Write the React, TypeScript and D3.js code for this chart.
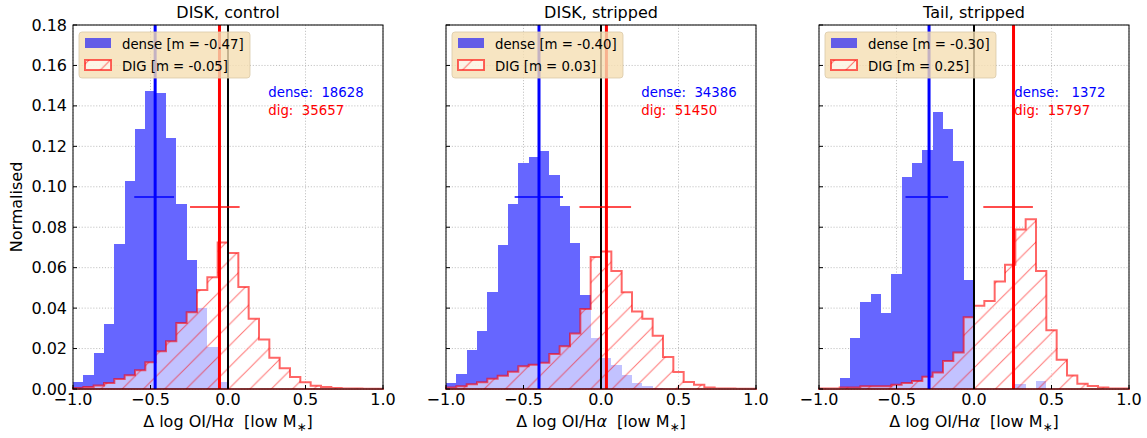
import React from 'react';
import * as d3 from 'd3';

const titles = ['DISK, control', 'DISK, stripped', 'Tail, stripped'];

const denseControl = [0.0035, 0.0071, 0.0178, 0.032, 0.0717, 0.1027, 0.1288, 0.1475, 0.1466, 0.1243, 0.0916, 0.0639, 0.0403, 0.0206, 0.0037, 0, 0, 0, 0, 0, 0, 0, 0, 0, 0, 0, 0, 0, 0, 0];
const digControl = [0.0005, 0.001, 0.0017, 0.003, 0.005, 0.0068, 0.0093, 0.0132, 0.0187, 0.0236, 0.0326, 0.038, 0.0489, 0.0552, 0.0724, 0.0672, 0.0504, 0.0347, 0.0245, 0.0155, 0.0102, 0.0059, 0.0033, 0.0016, 0.001, 0.0005, 0.0003, 0.0002, 0.0001, 0.0001];

const denseStripped = [0.0031, 0.0076, 0.0194, 0.0286, 0.0479, 0.0711, 0.0915, 0.1118, 0.1146, 0.1179, 0.1057, 0.0904, 0.0723, 0.0463, 0.0253, 0.0155, 0.012, 0.0071, 0.0032, 0.0013, 0.0004, 0, 0, 0, 0, 0, 0, 0, 0, 0];
const digStripped = [0.0007, 0.0013, 0.0023, 0.0033, 0.0051, 0.0066, 0.0085, 0.0112, 0.012, 0.013, 0.0173, 0.0212, 0.0275, 0.0396, 0.0653, 0.068, 0.0583, 0.0478, 0.0383, 0.0347, 0.0263, 0.0158, 0.0084, 0.0035, 0.0021, 0.0007, 0.0003, 0.0002, 0.0001, 0.0001];

const denseTail = [0, 0, 0.0056, 0.0254, 0.043, 0.0469, 0.0376, 0.0567, 0.1047, 0.1118, 0.1184, 0.1372, 0.1284, 0.1126, 0.0541, 0, 0, 0, 0, 0.0023, 0, 0.0038, 0, 0, 0, 0, 0, 0, 0, 0];
const digTail = [0.0003, 0.0003, 0.0007, 0.0007, 0.0013, 0.0013, 0.0013, 0.0021, 0.003, 0.004, 0.006, 0.0081, 0.0139, 0.018, 0.0355, 0.0412, 0.0435, 0.0532, 0.0614, 0.0789, 0.084, 0.0583, 0.029, 0.0145, 0.0067, 0.0026, 0.0015, 0.0007, 0.0003, 0.0002];

const denseSeries = [denseControl, denseStripped, denseTail];
const digSeries = [digControl, digStripped, digTail];

const denseMedian = [-0.47, -0.40, -0.29];
const digMedian = [-0.055, 0.035, 0.255];
const denseLegendM = ['-0.47', '-0.40', '-0.30'];
const digLegendM = ['-0.05', '0.03', '0.25'];
const denseErrLo = [-0.605, -0.557, -0.442];
const denseErrHi = [-0.348, -0.245, -0.167];
const digErrLo = [-0.245, -0.139, 0.06];
const digErrHi = [0.075, 0.194, 0.38];
const denseErrY = 0.095;
const digErrY = 0.09;
const denseCounts = [18628, 34386, 1372];
const digCounts = [35657, 51450, 15797];

const xTicks = [-1.0, -0.5, 0.0, 0.5, 1.0];
const yTicks = [0, 0.02, 0.04, 0.06, 0.08, 0.1, 0.12, 0.14, 0.16, 0.18];
const xDomain: [number, number] = [-1, 1];
const yDomain: [number, number] = [0, 0.18];

const FONT = 'DejaVu Sans';
const PANEL_LEFT = 73;
const PANEL_STEP = 373;
const PANEL_W = 310;
const TOP = 25;
const BOTTOM = 389;

const fmtX = d3.format('.1f');
const fmtY = d3.format('.2f');

function pad(n: number, w: number) {
  const s = String(n);
  return ' '.repeat(Math.max(0, w - s.length)) + s;
}

function Panel({ i }: { i: number }) {
  const left = PANEL_LEFT + i * PANEL_STEP;
  const x = d3.scaleLinear().domain(xDomain).range([left, left + PANEL_W]);
  const y = d3.scaleLinear().domain(yDomain).range([BOTTOM, TOP]);
  const dense = denseSeries[i];
  const dig = digSeries[i];
  const n = dense.length;
  const edges = d3.range(n + 1).map((k) => xDomain[0] + (k * (xDomain[1] - xDomain[0])) / n);
  const area = d3
    .area<number>()
    .x((_, k) => x(edges[k]))
    .y0(y(0))
    .y1((d) => y(d))
    .curve(d3.curveStepAfter);
  const digPath = area([...dig, dig[dig.length - 1]]) || '';
  const cx = left + PANEL_W / 2;
  const lx = left + 6;
  return (
    <g>
      {/* grid */}
      {xTicks.map((t) => (
        <line key={'gx' + t} x1={x(t)} x2={x(t)} y1={TOP} y2={BOTTOM} stroke="#b0b0b0" strokeWidth={0.8} strokeDasharray="1.1,1.8" />
      ))}
      {yTicks.map((t) => (
        <line key={'gy' + t} x1={left} x2={left + PANEL_W} y1={y(t)} y2={y(t)} stroke="#b0b0b0" strokeWidth={0.8} strokeDasharray="1.1,1.8" />
      ))}
      {/* dense bars */}
      {dense.map((v, k) =>
        v > 0 ? (
          <rect
            key={'d' + k}
            x={x(edges[k])}
            width={x(edges[k + 1]) - x(edges[k])}
            y={y(v)}
            height={y(0) - y(v)}
            fill="#6666ff"
            shapeRendering="crispEdges"
          />
        ) : null
      )}
      {/* DIG step histogram */}
      <path d={digPath} fill="#ffffff" fillOpacity={0.6} stroke="none" />
      <path d={digPath} fill="url(#hatch)" stroke="none" />
      <path d={digPath} fill="none" stroke="#ff0000" strokeOpacity={0.6} strokeWidth={2} />
      {/* vertical lines */}
      <line x1={x(0)} x2={x(0)} y1={TOP} y2={BOTTOM} stroke="#000" strokeWidth={2} />
      <line x1={x(denseMedian[i])} x2={x(denseMedian[i])} y1={TOP} y2={BOTTOM} stroke="#0000ff" strokeWidth={3} />
      <line x1={x(digMedian[i])} x2={x(digMedian[i])} y1={TOP} y2={BOTTOM} stroke="#ff0000" strokeWidth={3} />
      {/* error bars */}
      <line x1={x(denseErrLo[i])} x2={x(denseErrHi[i])} y1={y(denseErrY)} y2={y(denseErrY)} stroke="#0000ff" strokeOpacity={0.75} strokeWidth={2} />
      <line x1={x(digErrLo[i])} x2={x(digErrHi[i])} y1={y(digErrY)} y2={y(digErrY)} stroke="#ff0000" strokeOpacity={0.7} strokeWidth={2} />
      {/* frame */}
      <rect x={left} y={TOP} width={PANEL_W} height={BOTTOM - TOP} fill="none" stroke="#000" strokeWidth={1} />
      {/* ticks */}
      {xTicks.map((t) => (
        <line key={'tx' + t} x1={x(t)} x2={x(t)} y1={BOTTOM} y2={BOTTOM - 4} stroke="#000" strokeWidth={1} />
      ))}
      {yTicks.map((t) => (
        <line key={'ty' + t} x1={left} x2={left + 4} y1={y(t)} y2={y(t)} stroke="#000" strokeWidth={1} />
      ))}
      {xTicks.map((t) => (
        <text key={'lx' + t} x={x(t)} y={405} textAnchor="middle" fontSize={16} fontFamily={FONT} fill="#000">
          {fmtX(t)}
        </text>
      ))}
      {i === 0 &&
        yTicks.map((t) => (
          <text key={'ly' + t} x={left - 6} y={y(t)} dy="0.35em" textAnchor="end" fontSize={16} fontFamily={FONT} fill="#000">
            {fmtY(t)}
          </text>
        ))}
      {/* title */}
      <text x={cx} y={18} textAnchor="middle" fontSize={16} fontFamily={FONT} fill="#000">
        {titles[i]}
      </text>
      {/* x label */}
      <text x={cx} y={427} textAnchor="middle" fontSize={16} fontFamily={FONT} fill="#000" style={{ whiteSpace: 'pre' }}>
        {'Δ log OI/H'}
        <tspan fontStyle="italic">α</tspan>
        {'  [low M'}
        <tspan dy={4} fontSize={12}>∗</tspan>
        <tspan dy={-4}>]</tspan>
      </text>
      {/* counts */}
      <text x={left + 0.63 * PANEL_W} y={97} fontSize={13.3} fontFamily={FONT} fill="#0000ff" style={{ whiteSpace: 'pre' }}>
        {'dense: ' + pad(denseCounts[i], 6)}
      </text>
      <text x={left + 0.63 * PANEL_W} y={115} fontSize={13.3} fontFamily={FONT} fill="#ff0000" style={{ whiteSpace: 'pre' }}>
        {'dig:  ' + String(digCounts[i])}
      </text>
      {/* legend */}
      <rect x={lx} y={32} width={171} height={46} rx={3} fill="#f5deb3" fillOpacity={0.8} stroke="#d9c9a9" strokeOpacity={0.8} />
      <rect x={lx + 6} y={38} width={26} height={10} fill="#0000ff" fillOpacity={0.6} />
      <rect x={lx + 6} y={60} width={26} height={10} fill="#ffffff" fillOpacity={0.6} />
      <rect x={lx + 6} y={60} width={26} height={10} fill="url(#hatch)" />
      <rect x={lx + 6} y={60} width={26} height={10} fill="none" stroke="#ff0000" strokeOpacity={0.6} strokeWidth={2} />
      <text x={lx + 43} y={49} fontSize={13.3} fontFamily={FONT} fill="#000" style={{ whiteSpace: 'pre' }}>
        {`dense [m = ${denseLegendM[i]}]`}
      </text>
      <text x={lx + 43} y={71} fontSize={13.3} fontFamily={FONT} fill="#000" style={{ whiteSpace: 'pre' }}>
        {`DIG [m = ${digLegendM[i]}]`}
      </text>
    </g>
  );
}

export default function App() {
  const hs = 21.3;
  return (
    <svg width={1147} height={438} style={{ position: 'absolute', left: 0, top: 0, background: '#fff' }}>
      <defs>
        <pattern id="hatch" patternUnits="userSpaceOnUse" width={hs} height={hs}>
          <path
            d={`M-2,2 L2,-2 M0,${hs} L${hs},0 M${hs - 2},${hs + 2} L${hs + 2},${hs - 2}`}
            stroke="#ff0000"
            strokeOpacity={0.55}
            strokeWidth={1}
          />
        </pattern>
      </defs>
      <rect x={0} y={0} width={1147} height={438} fill="#fff" />
      {[0, 1, 2].map((i) => (
        <Panel key={i} i={i} />
      ))}
      <text x={16} y={207} transform="rotate(-90,16,207)" dy="0.35em" textAnchor="middle" fontSize={16} fontFamily={FONT} fill="#000">
        Normalised
      </text>
    </svg>
  );
}
